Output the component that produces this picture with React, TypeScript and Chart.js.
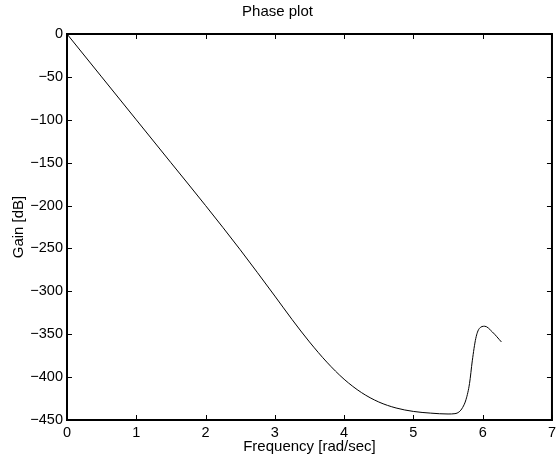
import React, { useEffect, useRef } from "react";
import { Chart, registerables } from "chart.js";

Chart.register(...registerables);

const chartTitle = "Phase plot";
const xTitle = "Frequency [rad/sec]";
const yTitle = "Gain [dB]";

const frequency = [
  0, 0.5, 1.0, 1.5, 2.0, 2.5, 3.0, 3.25, 3.5, 3.75, 4.0, 4.25, 4.5, 4.75, 5.0,
  5.25, 5.5, 5.6, 5.66, 5.71, 5.76, 5.81, 5.85, 5.9, 5.95, 6.03, 6.14, 6.27,
];
const phase = [
  0, -50, -100, -150, -200, -251.5, -305.5, -333, -359, -382.5, -402.5, -418,
  -429, -436, -440, -442, -443, -442.6, -440.5, -435.5, -426, -407.5, -381,
  -355, -343.5, -340.7, -347.4, -359,
];

const xMin = 0;
const xMax = 7;
const xStep = 1;
const yMin = -450;
const yMax = 0;
const yStep = 50;

const FONT = "'Liberation Sans', Arial, Helvetica, sans-serif";

const framePlugin = {
  id: "matlabFrame",
  afterDraw(chart: any) {
    const { ctx, chartArea } = chart;
    const { left, right, top, bottom } = chartArea;
    const xs = chart.scales.x;
    const ys = chart.scales.y;
    ctx.save();
    ctx.strokeStyle = "#000";
    ctx.lineWidth = 1;
    const tl = 5;
    ctx.beginPath();
    xs.ticks.forEach((t: any) => {
      const px = Math.round(xs.getPixelForValue(t.value)) + 0.5;
      ctx.moveTo(px, bottom);
      ctx.lineTo(px, bottom - tl);
      ctx.moveTo(px, top);
      ctx.lineTo(px, top + tl);
    });
    ys.ticks.forEach((t: any) => {
      const py = Math.round(ys.getPixelForValue(t.value)) + 0.5;
      ctx.moveTo(left, py);
      ctx.lineTo(left + tl, py);
      ctx.moveTo(right, py);
      ctx.lineTo(right - tl, py);
    });
    ctx.stroke();
    ctx.lineWidth = 2;
    ctx.strokeRect(left, top, right - left, bottom - top);
    ctx.restore();
  },
};

export default function App() {
  const canvasRef = useRef<HTMLCanvasElement>(null);

  useEffect(() => {
    document.body.style.margin = "0";
    const canvas = canvasRef.current;
    if (!canvas) return;
    const chart = new Chart(canvas, {
      type: "line",
      data: {
        datasets: [
          {
            data: frequency.map((f, i) => ({ x: f, y: phase[i] })),
            borderColor: "#000",
            borderWidth: 1,
            pointRadius: 0,
            fill: false,
            cubicInterpolationMode: "monotone",
          },
        ],
      },
      options: {
        animation: false,
        responsive: false,
        devicePixelRatio: 1,
        layout: { padding: { left: 0, right: 5, top: 0, bottom: 0 } },
        plugins: {
          legend: { display: false },
          tooltip: { enabled: false },
          title: {
            display: true,
            text: chartTitle,
            color: "#000",
            font: { family: FONT, size: 15, weight: "normal" },
            padding: { top: 3, bottom: 13 },
          },
        },
        scales: {
          x: {
            type: "linear",
            min: xMin,
            max: xMax,
            grid: { display: false, drawTicks: false },
            border: { display: false },
            ticks: {
              stepSize: xStep,
              color: "#000",
              padding: 4,
              maxRotation: 0,
              font: { family: FONT, size: 14.5 },
            },
            title: {
              display: true,
              text: xTitle,
              color: "#000",
              font: { family: FONT, size: 15 },
              padding: { top: 0, bottom: 1 },
            },
            afterFit(scale: any) {
              scale.height = 37;
            },
          },
          y: {
            type: "linear",
            min: yMin,
            max: yMax,
            grid: { display: false, drawTicks: false },
            border: { display: false },
            ticks: {
              stepSize: yStep,
              color: "#000",
              padding: 4,
              font: { family: FONT, size: 14.5 },
              callback: (v: any) => String(v).replace("-", "\u2212"),
            },
            title: {
              display: true,
              text: yTitle,
              color: "#000",
              font: { family: FONT, size: 15 },
              padding: { top: 10, bottom: 0 },
            },
            afterFit(scale: any) {
              scale.width = 67;
            },
          },
        },
      },
      plugins: [framePlugin],
    });
    return () => chart.destroy();
  }, []);

  return (
    <div style={{ position: "absolute", left: 0, top: 0, width: 560, height: 457, background: "#fff" }}>
      <canvas ref={canvasRef} width={560} height={457} />
    </div>
  );
}
